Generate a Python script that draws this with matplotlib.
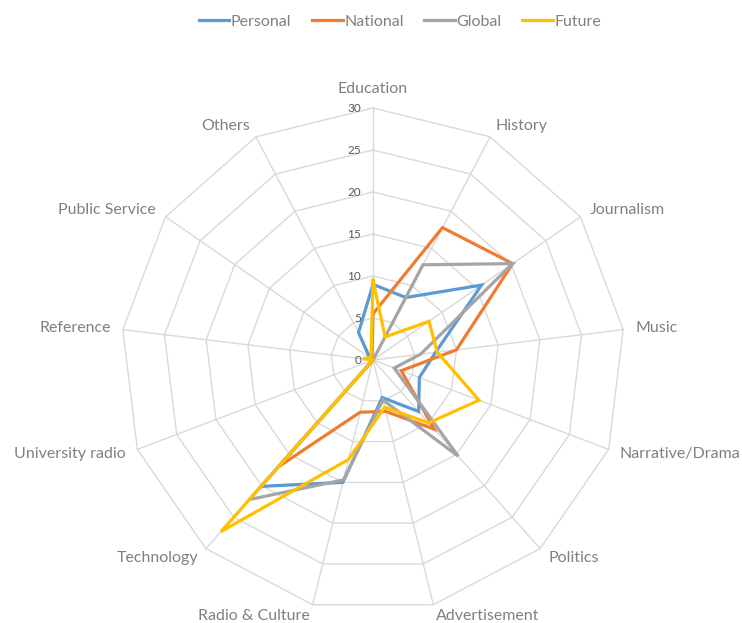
import numpy as np
import matplotlib
matplotlib.use("Agg")
import matplotlib.pyplot as plt

categories = ["Education", "History", "Journalism", "Music", "Narrative/Drama",
              "Politics", "Advertisement", "Radio & Culture", "Technology",
              "University radio", "Reference", "Public Service", "Others"]
personal = [9.0, 8.4, 15.7, 7.5, 5.9, 8.2, 4.6, 15.0, 20.1, 0.0, 0.0, 0.5, 3.7]
national = [5.5, 17.8, 20.2, 10.0, 3.6, 11.0, 6.3, 6.4, 17.0, 0.0, 0.0, 0.0, 0.3]
global_ = [0.0, 12.8, 20.2, 5.7, 2.7, 15.3, 4.9, 14.7, 22.2, 0.0, 0.0, 0.0, 0.0]
future = [9.5, 3.1, 8.1, 7.7, 13.5, 10.0, 5.8, 12.2, 27.3, 0.0, 1.2, 0.5, 0.5]
series_names = ["Personal", "National", "Global", "Future"]
colors = ["#5B9BD5", "#ED7D31", "#A5A5A5", "#FFC000"]
rticks = [0, 5, 10, 15, 20, 25, 30]

plt.rcParams['font.family'] = ['Lato', 'DejaVu Sans']

W, H = 742, 623
fig = plt.figure(figsize=(W / 100, H / 100), dpi=100)
cx, cy, R = 373 / W, 1 - 360 / H, 252
ax = fig.add_axes([cx - R / W, cy - R / H, 2 * R / W, 2 * R / H], projection='polar')
ax.set_theta_zero_location('N')
ax.set_theta_direction(-1)
ax.set_ylim(0, 30)
ax.axis('off')

n = len(categories)
theta = np.arange(n) * 2 * np.pi / n
theta_c = np.append(theta, theta[0])

# polygon grid
for r in rticks[1:]:
    ax.plot(theta_c, [r] * (n + 1), color="#d9d9d9", lw=1, zorder=1, clip_on=False)
for t in theta:
    ax.plot([t, t], [0, 30], color="#d9d9d9", lw=1, zorder=1, clip_on=False)

# series
for name, vals, c in zip(series_names, [personal, national, global_, future], colors):
    v = np.append(vals, vals[0])
    ax.plot(theta_c, v, color=c, lw=2.3, label=name, zorder=3, clip_on=False,
            solid_joinstyle='miter')

# radial tick labels
for r in rticks:
    ax.annotate(str(r), xy=(0, r), xytext=(-12, 0), textcoords='offset pixels',
                ha='right', va='center', fontsize=8.5, color="#595959")

# category labels
for t, lab in zip(theta, categories):
    s, c = np.sin(t), np.cos(t)
    if abs(s) < 0.05:
        ha = 'center'
        va = 'bottom' if c > 0 else 'top'
    else:
        ha = 'left' if s > 0 else 'right'
        va = 'center'
    d = 12
    ax.annotate(lab, xy=(t, 30), xytext=(s * d, c * d), textcoords='offset pixels',
                ha=ha, va=va, fontsize=11.5, color="#808080")

fig.legend(loc='upper center', bbox_to_anchor=(0.539, 1.0), ncol=4, frameon=False,
           fontsize=11.5, handlelength=1.9, handletextpad=0.1, columnspacing=1.3,
           labelcolor="#808080")

fig.savefig("out.png", dpi=100, facecolor="white")
